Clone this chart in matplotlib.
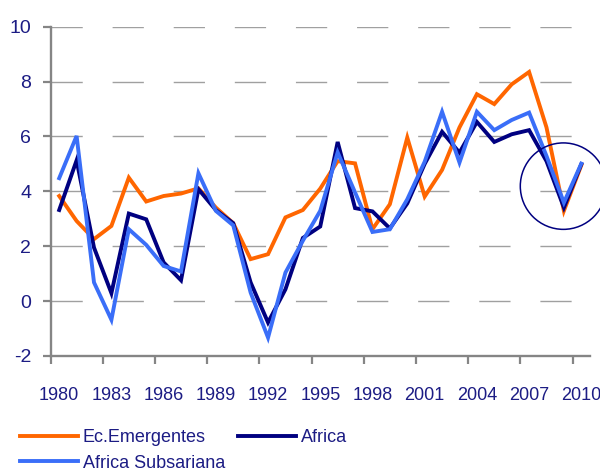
import matplotlib
import numpy as np

matplotlib.use('Agg')
from matplotlib import pyplot as plt
from matplotlib.patches import Ellipse
from matplotlib.ticker import FixedLocator, NullFormatter

years = list(range(1980, 2011))

ec_emergentes = [3.83, 2.92, 2.26, 2.74, 4.50, 3.63, 3.83, 3.92, 4.11, 3.41,
                 2.84, 1.53, 1.71, 3.05, 3.32, 4.10, 5.10, 5.02, 2.62, 3.53,
                 5.96, 3.81, 4.78, 6.33, 7.54, 7.18, 7.90, 8.35, 6.33, 3.29,
                 4.95]
africa = [3.32, 5.13, 1.95, 0.29, 3.19, 2.98, 1.41, 0.76, 4.08, 3.32,
          2.84, 0.68, -0.78, 0.43, 2.30, 2.72, 5.80, 3.39, 3.27, 2.65,
          3.56, 5.00, 6.17, 5.41, 6.53, 5.80, 6.08, 6.23, 5.10, 3.41,
          4.99]
africa_subsariana = [4.48, 6.02, 0.68, -0.68, 2.62, 2.05, 1.28, 1.08, 4.66, 3.29,
                     2.76, 0.31, -1.33, 1.04, 2.20, 3.29, 5.42, 3.96, 2.52, 2.62,
                     3.71, 5.08, 6.90, 5.05, 6.90, 6.23, 6.60, 6.87, 5.29, 3.59,
                     5.01]

label_years = years[::3]
y_ticks = [-2, 0, 2, 4, 6, 8, 10]

orange = '#ff6600'
navy = '#000080'
blue = '#3a6ef8'
text_color = '#1c1c84'
axis_gray = '#858585'

plt.rcParams['font.family'] = ['Liberation Sans', 'DejaVu Sans']
plt.rcParams['lines.scale_dashes'] = False

fig = plt.figure(figsize=(6, 4.74), dpi=100, facecolor='white')
ax = fig.add_axes([50.5 / 600, 1 - 356 / 474, (590 - 50.5) / 600, (356 - 26.7) / 474])

l_ec, = ax.plot(years, ec_emergentes, color=orange, lw=2.8, solid_joinstyle='miter', zorder=3)
l_af, = ax.plot(years, africa, color=navy, lw=2.8, solid_joinstyle='miter', zorder=4)
l_sub, = ax.plot(years, africa_subsariana, color=blue, lw=2.8, solid_joinstyle='miter', zorder=5)

ax.set_xlim(years[0] - 0.5, years[-1] + 0.5)
ax.set_ylim(-2, 10)

# category axis: ticks between categories, labels on the categories
ax.xaxis.set_major_locator(FixedLocator([y - 0.5 for y in label_years]))
ax.xaxis.set_major_formatter(NullFormatter())
ax.xaxis.set_minor_locator(FixedLocator(label_years))
ax.set_xticklabels([str(y) for y in label_years], minor=True)
ax.tick_params(axis='x', which='major', direction='out', length=6, width=1.6, color=axis_gray)
ax.tick_params(axis='x', which='minor', length=0, pad=22, labelsize=13, labelcolor=text_color)

ax.set_yticks(y_ticks)
ax.set_yticklabels([str(v) for v in y_ticks])
ax.tick_params(axis='y', direction='out', length=6, width=1.6, color=axis_gray,
               pad=8, labelsize=14, labelcolor=text_color)

for v in y_ticks[1:]:
    ax.axhline(v, color='#a0a0a0', lw=1.0, dashes=(22.5, 21.5), zorder=1)

ax.spines['top'].set_visible(False)
ax.spines['right'].set_visible(False)
for side in ['left', 'bottom']:
    ax.spines[side].set_color(axis_gray)
    ax.spines[side].set_linewidth(1.7)

# ring drawn around the 2009 drop
ax.add_patch(Ellipse((2008.97, 4.19), 4.95, 3.15, fill=False, edgecolor=navy,
                     lw=1.1, clip_on=False, zorder=6))

leg = fig.legend([l_ec, l_sub, l_af], ['Ec.Emergentes', 'Africa Subsariana', 'Africa'],
                 ncol=2, loc='upper left', bbox_to_anchor=(20 / 600, 1 - 429 / 474),
                 frameon=False, fontsize=13, handlelength=3.2, handletextpad=0.28,
                 columnspacing=0.7, labelspacing=0.48, borderpad=0, borderaxespad=0)
for t in leg.get_texts():
    t.set_color(text_color)

plt.savefig('out.png', dpi=100, facecolor='white')
